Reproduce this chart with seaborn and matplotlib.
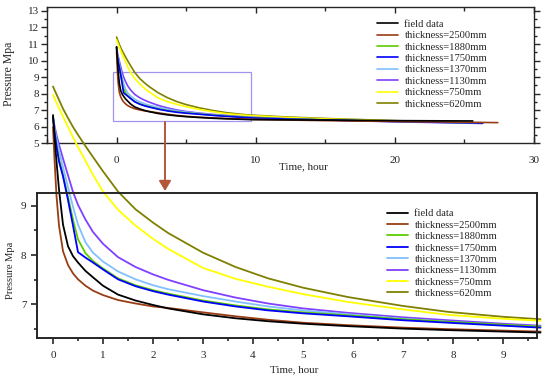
import pandas as pd
import matplotlib
matplotlib.use('Agg')
import matplotlib.pyplot as plt
import seaborn as sns
from matplotlib.patches import Rectangle, FancyArrowPatch
from matplotlib.ticker import MultipleLocator

# time grid (hours) shared by all curves, plus one end point per curve
hours = [0, 0.03, 0.07, 0.12, 0.2, 0.3, 0.4, 0.5, 0.65, 0.8, 1.0, 1.3, 1.65,
         2.0, 2.3, 3.0, 3.65, 4.3, 5.0, 5.9, 7.0, 7.9, 9.0, 9.75, 12, 15, 20]

series_names = ['field data', 'thickness=2500mm', 'thickness=1880mm', 'thickness=1750mm',
                'thickness=1370mm', 'thickness=1130mm', 'thickness=750mm', 'thickness=620mm']
colors = ['#000000', '#993d14', '#5ccc00', '#0000ff', '#80c0ff', '#8040ff', '#ffff00', '#808000']

field_data = [10.84, 10.4, 9.9, 9.33, 8.62, 8.18, 7.98, 7.85, 7.68, 7.55, 7.38, 7.20, 7.08,
              6.99, 6.92, 6.80, 6.72, 6.66, 6.61, 6.56, 6.51, 6.48, 6.45, 6.43, 6.42, 6.40, 6.37]
p_2500 = [10.6, 9.95, 9.2, 8.6, 8.08, 7.80, 7.63, 7.51, 7.38, 7.28, 7.19, 7.09, 7.02,
          6.96, 6.93, 6.84, 6.76, 6.69, 6.63, 6.58, 6.53, 6.50, 6.47, 6.45, 6.41, 6.37, 6.32]
p_1880 = [10.8, 10.52, 10.24, 9.95, 9.62, 9.18, 8.72, 8.32, 8.04, 7.88, 7.73, 7.53, 7.39,
          7.29, 7.22, 7.08, 6.98, 6.90, 6.84, 6.78, 6.70, 6.65, 6.59, 6.55, 6.48, 6.42, 6.33]
p_1750 = [10.8, 10.5, 10.2, 9.9, 9.6, 9.12, 8.6, 8.06, 7.95, 7.85, 7.71, 7.51, 7.37,
          7.27, 7.20, 7.06, 6.96, 6.88, 6.82, 6.76, 6.68, 6.63, 6.57, 6.53, 6.47, 6.41, 6.32]
p_1370 = [10.8, 10.58, 10.36, 10.12, 9.78, 9.38, 8.98, 8.62, 8.26, 8.05, 7.87, 7.67, 7.51,
          7.39, 7.31, 7.17, 7.06, 6.96, 6.88, 6.80, 6.71, 6.65, 6.58, 6.55, 6.47, 6.41, 6.32]
p_1130 = [10.8, 10.62, 10.44, 10.24, 9.96, 9.62, 9.28, 9.02, 8.72, 8.47, 8.23, 7.96, 7.76,
          7.61, 7.50, 7.29, 7.14, 7.02, 6.92, 6.83, 6.74, 6.68, 6.61, 6.57, 6.49, 6.41, 6.30]
p_750 = [11.25, 11.18, 11.09, 10.98, 10.81, 10.60, 10.39, 10.19, 9.91, 9.63, 9.29, 8.92, 8.60,
         8.33, 8.13, 7.74, 7.52, 7.36, 7.21, 7.05, 6.90, 6.79, 6.71, 6.67, 6.57, 6.47, 6.35]
p_620 = [11.42, 11.35, 11.26, 11.15, 10.97, 10.78, 10.60, 10.44, 10.21, 9.99, 9.70, 9.29, 8.93,
         8.66, 8.45, 8.05, 7.76, 7.53, 7.34, 7.15, 6.97, 6.85, 6.75, 6.70, 6.60, 6.50, 6.37]

end_hour = [25.6, 27.4, 26.3, 26.3, 26.3, 26.3, 26.3, 26.3]
end_pressure = [6.35, 6.25, 6.23, 6.22, 6.21, 6.20, 6.21, 6.22]

all_values = [field_data, p_2500, p_1880, p_1750, p_1370, p_1130, p_750, p_620]

rows = []
for name, vals, th, tp in zip(series_names, all_values, end_hour, end_pressure):
    for h, p in zip(hours + [th], vals + [tp]):
        rows.append((name, h, p))
df = pd.DataFrame(rows, columns=['series', 'hour', 'pressure'])

palette = dict(zip(series_names, colors))
draw_order = ['thickness=620mm', 'thickness=750mm', 'thickness=1130mm', 'thickness=1370mm',
              'thickness=1880mm', 'thickness=1750mm', 'thickness=2500mm', 'field data']

sns.set_style('ticks')
plt.rcParams['font.family'] = ['Liberation Serif', 'DejaVu Serif']
plt.rcParams['axes.linewidth'] = 1.0

W, H = 550, 379
fig = plt.figure(figsize=(5.5, 3.79), dpi=100)


def fx(px):
    return px / W


def fy(py):
    return 1 - py / H


def draw_curves(ax, data, lw):
    for name in draw_order:
        sns.lineplot(data=data[data.series == name], x='hour', y='pressure', color=palette[name],
                     lw=lw, ax=ax, label=name, sort=False, estimator=None)
    handles, labels = ax.get_legend_handles_labels()
    lookup = dict(zip(labels, handles))
    return [lookup[n] for n in series_names]


legend_kw = dict(bbox_transform=fig.transFigure, loc='upper left', frameon=False, fontsize=7.6,
                 handlelength=2.0, handletextpad=0.6, labelspacing=0.19, borderpad=0,
                 borderaxespad=0)

# ---- top panel: whole test ----
ax1 = fig.add_axes([fx(47), fy(143.3), fx(534 - 47), (143.3 - 7.3) / H])
handles = draw_curves(ax1, df, 1.2)
ax1.set_xlim(-5, 30)
ax1.set_ylim(5, 13.22)
ax1.set_xticks([0, 10, 20, 30])
ax1.xaxis.set_minor_locator(MultipleLocator(5))
ax1.yaxis.set_major_locator(MultipleLocator(1))
ax1.yaxis.set_minor_locator(MultipleLocator(0.5))
ax1.tick_params(axis='x', which='both', direction='in', top=True, bottom=True, labelsize=8, pad=9)
ax1.tick_params(axis='x', which='major', length=4, width=1)
ax1.tick_params(axis='x', which='minor', length=3, width=1)
ax1.tick_params(axis='y', which='both', direction='out', left=True, right=True, labelsize=8, pad=2)
ax1.tick_params(axis='y', which='major', length=4, width=1)
ax1.tick_params(axis='y', which='minor', length=2.5, width=1)
ax1.set_xlabel('')
ax1.set_ylabel('')
ax1.legend(handles, series_names, bbox_to_anchor=(fx(377), fy(19.5)), **legend_kw)
ax1.add_patch(Rectangle((-0.29, 6.35), 9.93, 2.94, fill=False, edgecolor='#a393ee', lw=0.9))

fig.text(fx(9), fy(74), 'Pressure Mpa', rotation=90, ha='center', va='center', fontsize=8.5)
fig.text(fx(303), fy(167), 'Time, hour', ha='center', va='center', fontsize=8)

# ---- bottom panel: zoom on the first 10 hours ----
ax2 = fig.add_axes([fx(37), fy(338), fx(537 - 37), (338 - 193) / H])
zoom = df[df.hour <= 9.8]
handles2 = draw_curves(ax2, zoom, 1.3)
for line in ax2.lines:
    line.set_clip_on(False)
ax2.set_xlim(-0.32, 9.68)
ax2.set_ylim(6.32, 9.26)
ax2.set_xticks(range(0, 10))
ax2.xaxis.set_minor_locator(MultipleLocator(0.5))
ax2.set_yticks([7, 8, 9])
ax2.yaxis.set_minor_locator(MultipleLocator(0.5))
ax2.tick_params(axis='both', which='both', direction='out', labelsize=8)
ax2.tick_params(axis='both', which='major', length=4, width=1.2)
ax2.tick_params(axis='both', which='minor', length=2.5, width=1.2)
ax2.tick_params(axis='x', pad=5)
for s in ax2.spines.values():
    s.set_linewidth(1.4)
ax2.set_xlabel('')
ax2.set_ylabel('')
ax2.legend(handles2, series_names, bbox_to_anchor=(fx(387), fy(209)), **legend_kw)

fig.text(fx(11), fy(270), 'Pressure Mpa', rotation=90, ha='center', va='center', fontsize=7.6)
fig.text(fx(294), fy(370), 'Time, hour', ha='center', va='center', fontsize=7.8)

# arrow from the marked box down to the zoomed panel
arrow = FancyArrowPatch((fx(165), fy(122)), (fx(165), fy(191)), transform=fig.transFigure,
                        arrowstyle='-|>,head_length=0.6,head_width=0.36', mutation_scale=10,
                        color='#b5563a', lw=1.4, shrinkA=0, shrinkB=0)
fig.add_artist(arrow)

fig.savefig('out.png', dpi=100)
